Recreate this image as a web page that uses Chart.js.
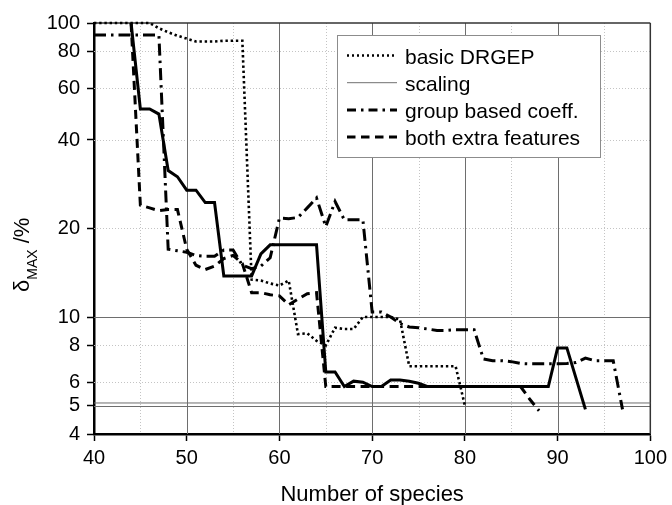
<!DOCTYPE html>
<html>
<head>
<meta charset="utf-8">
<script src="https://cdn.jsdelivr.net/npm/chart.js@4.4.0/dist/chart.umd.min.js"></script>
<style>
  html, body { margin: 0; padding: 0; background: #fff; }
</style>
</head>
<body>
<canvas id="chart" width="672" height="505"></canvas>
<script>
// number of species kept in the reduced mechanism vs. max error in %
const basicX = [40, 41, 42, 43, 44, 45, 46, 47, 48, 49, 50, 51, 52, 53, 54, 55, 56, 57, 58, 59,
                60, 61, 62, 63, 64, 65, 66, 67, 68, 69, 70, 71, 72, 73, 74, 75, 76, 77, 78, 79, 80];
const basicY = [100, 100, 100, 100, 100, 100, 100, 96, 93, 90.5, 88.5, 86.5, 86.5, 86.5, 87, 87, 87, 13.4, 13.3, 13,
                12.8, 13.3, 8.75, 8.8, 8.3, 8.0, 9.2, 9.1, 9.1, 10, 10, 10, 10, 9.8, 6.8, 6.8, 6.8, 6.8, 6.8, 6.8, 5.0];

const scalingX = [44, 45, 46, 47, 48, 49, 50, 51, 52, 53, 54, 55, 56, 57, 58, 59, 60, 61, 62, 63, 64,
                  65, 66, 67, 68, 69, 70, 71, 72, 73, 74, 75, 76, 77, 78, 79, 80, 81, 82, 83, 84, 85,
                  86, 87, 88, 89, 90, 91, 93];
const scalingY = [100, 51, 51, 49, 31.5, 30, 27, 27, 24.5, 24.5, 13.8, 13.8, 13.8, 13.8, 16.4, 17.6, 17.6, 17.6, 17.6, 17.6, 17.6,
                  6.5, 6.5, 5.8, 6.05, 6.0, 5.8, 5.8, 6.1, 6.1, 6.05, 5.95, 5.8, 5.8, 5.8, 5.8, 5.8, 5.8, 5.8, 5.8, 5.8, 5.8,
                  5.8, 5.8, 5.8, 5.8, 7.85, 7.85, 4.85];

const groupX = [40, 41, 42, 43, 44, 45, 46, 47, 48, 49, 50, 51, 52, 53, 54, 55, 56, 57, 58, 59,
                60, 61, 62, 63, 64, 65, 66, 67, 68, 69, 70, 71, 72, 73, 74, 75, 76, 77, 78, 79,
                80, 81, 82, 83, 84, 85, 86, 87, 88, 89, 90, 91, 92, 93, 94, 95, 96, 97];
const groupY = [91, 91, 91, 91, 91, 91, 91, 91, 17, 16.8, 16.6, 16.2, 16.1, 16.1, 16.9, 16.9, 15.0, 14.6, 14.9, 15.9,
                21.7, 21.6, 21.8, 23.5, 25.4, 20.3, 24.7, 21.4, 21.4, 21.4, 10.4, 10.4, 10.0, 9.5, 9.25, 9.2, 9.1, 9.0, 9.0, 9.05,
                9.05, 9.05, 7.2, 7.1, 7.1, 7.05, 6.95, 6.93, 6.93, 6.93, 6.93, 6.95, 7.0, 7.25, 7.1, 7.1, 7.1, 4.85];

const bothX = [44, 45, 46, 47, 48, 49, 50, 51, 52, 53, 54, 55, 56, 57, 58, 59, 60, 61, 62, 63, 64,
               65, 66, 67, 68, 69, 70, 71, 72, 73, 74, 75, 76, 77, 78, 79, 80, 81, 82, 83, 84, 85, 86, 87, 88];
const bothY = [100, 24, 23.5, 23, 23.2, 23.2, 17, 15, 14.5, 14.9, 15.8, 16.2, 15.2, 12.1, 12.1, 11.9, 11.8, 11.0, 11.5, 12.0, 12.1,
               5.8, 5.8, 5.8, 5.8, 5.8, 5.8, 5.8, 5.8, 5.8, 5.8, 5.8, 5.8, 5.8, 5.8, 5.8, 5.8, 5.8, 5.8, 5.8, 5.8, 5.8, 5.8, 5.25, 4.8];

const seriesNames = ['basic DRGEP', 'scaling', 'group based coeff.', 'both extra features'];

// axes
const xMin = 40, xMax = 100;
const yMin = 4, yMax = 100;
const xTicks = [40, 50, 60, 70, 80, 90, 100];
const yTicks = [4, 5, 6, 8, 10, 20, 40, 60, 80, 100];
const xMajorGrid = [50, 60, 70, 80, 90];
const xMinorGrid = [45, 55, 65, 75, 85, 95];
const yMajorGrid = [5, 10];
const yMinorGrid = [6, 8, 20, 40, 60, 80];
const limitLevel = 5.1;

const FONT = '"Liberation Sans", Arial, sans-serif';

function toPoints(xs, ys) {
	return xs.map((x, i) => ({x: x, y: ys[i]}));
}

function hLine(ctx, x1, x2, y) {
	ctx.beginPath();
	ctx.moveTo(x1, y);
	ctx.lineTo(x2, y);
	ctx.stroke();
}

function vLine(ctx, x, y1, y2) {
	ctx.beginPath();
	ctx.moveTo(x, y1);
	ctx.lineTo(x, y2);
	ctx.stroke();
}

// grid lines under the curves, frame on top and right
const gridPlugin = {
	id: 'plotGrid',
	beforeDatasetsDraw(chart) {
		const {ctx, chartArea: a, scales: {x, y}} = chart;
		ctx.save();
		ctx.lineWidth = 1;
		ctx.strokeStyle = '#c4c4c4';
		ctx.setLineDash([1, 2]);
		xMinorGrid.forEach(v => vLine(ctx, Math.round(x.getPixelForValue(v)) + 0.5, a.top, a.bottom));
		yMinorGrid.forEach(v => hLine(ctx, a.left, a.right, Math.round(y.getPixelForValue(v)) + 0.5));
		ctx.setLineDash([]);
		ctx.strokeStyle = '#6e6e6e';
		xMajorGrid.forEach(v => vLine(ctx, Math.round(x.getPixelForValue(v)) + 0.5, a.top, a.bottom));
		yMajorGrid.forEach(v => hLine(ctx, a.left, a.right, Math.round(y.getPixelForValue(v)) + 0.5));
		ctx.strokeStyle = '#333';
		ctx.lineWidth = 1.5;
		hLine(ctx, a.left, a.right, a.top);
		vLine(ctx, a.right, a.top, a.bottom);
		ctx.restore();
	}
};

// y title with subscript
const yTitlePlugin = {
	id: 'yTitle',
	afterDraw(chart) {
		const ctx = chart.ctx;
		ctx.save();
		ctx.translate(29, 292);
		ctx.rotate(-Math.PI / 2);
		ctx.fillStyle = '#000';
		ctx.textAlign = 'left';
		ctx.textBaseline = 'alphabetic';
		ctx.font = '22px ' + FONT;
		ctx.fillText('δ', 0, 0);
		let w = ctx.measureText('δ').width;
		ctx.font = '14px ' + FONT;
		ctx.fillText('MAX', w, 8);
		w += ctx.measureText('MAX').width;
		ctx.font = '22px ' + FONT;
		ctx.fillText(' /%', w, 0);
		ctx.restore();
	}
};

// boxed legend inside the plot, one row per series that has a legendLine
const legendPlugin = {
	id: 'boxLegend',
	afterDraw(chart) {
		const ctx = chart.ctx;
		const box = {x: 337, y: 35, w: 263, h: 122};
		ctx.save();
		ctx.fillStyle = '#fff';
		ctx.fillRect(box.x, box.y, box.w, box.h);
		ctx.strokeStyle = '#8c8c8c';
		ctx.lineWidth = 1;
		ctx.strokeRect(box.x + 0.5, box.y + 0.5, box.w, box.h);
		ctx.font = '21px ' + FONT;
		ctx.textBaseline = 'alphabetic';
		ctx.textAlign = 'left';
		chart.data.datasets.filter(ds => ds.legendLine).forEach((ds, i) => {
			const base = 63.5 + i * 27.2;
			const ly = base - 8;
			const s = ds.legendLine;
			ctx.beginPath();
			ctx.setLineDash(s.dash || []);
			ctx.lineWidth = s.width;
			ctx.strokeStyle = s.color;
			ctx.moveTo(347, ly);
			ctx.lineTo(397, ly);
			ctx.stroke();
			ctx.setLineDash([]);
			ctx.fillStyle = '#000';
			ctx.fillText(ds.label, 405, base);
		});
		ctx.restore();
	}
};

const datasets = [
	{
		label: seriesNames[0],
		data: toPoints(basicX, basicY),
		borderColor: '#000',
		borderWidth: 2.6,
		borderDash: [2.4, 2.8],
		legendLine: {width: 2.4, color: '#000', dash: [2, 3]}
	},
	{
		label: seriesNames[1],
		data: toPoints(scalingX, scalingY),
		borderColor: '#000',
		borderWidth: 3,
		legendLine: {width: 1, color: '#707070'}
	},
	{
		label: seriesNames[2],
		data: toPoints(groupX, groupY),
		borderColor: '#000',
		borderWidth: 3,
		borderDash: [12, 5, 2.5, 5],
		legendLine: {width: 3, color: '#000', dash: [9, 5, 2.5, 5]}
	},
	{
		label: seriesNames[3],
		data: toPoints(bothX, bothY),
		borderColor: '#000',
		borderWidth: 3,
		borderDash: [9, 5.5],
		legendLine: {width: 3, color: '#000', dash: [8.5, 5.5]}
	},
	{
		label: 'limit',
		data: [{x: xMin, y: limitLevel}, {x: xMax, y: limitLevel}],
		borderColor: '#6e6e6e',
		borderWidth: 1
	}
];

const chart = new Chart(document.getElementById('chart'), {
	type: 'line',
	data: {datasets: datasets},
	options: {
		responsive: false,
		animation: false,
		devicePixelRatio: 1,
		layout: {padding: {left: 0, right: 19, top: 23, bottom: 0}},
		elements: {
			point: {radius: 0},
			line: {tension: 0, fill: false, borderJoinStyle: 'miter'}
		},
		datasets: {line: {clip: false}},
		plugins: {legend: {display: false}, tooltip: {enabled: false}},
		scales: {
			x: {
				type: 'linear',
				min: xMin,
				max: xMax,
				afterBuildTicks: s => { s.ticks = xTicks.map(v => ({value: v})); },
				afterFit: s => { s.height = 71; },
				ticks: {color: '#000', font: {family: FONT, size: 20}, padding: 5, maxRotation: 0},
				grid: {drawOnChartArea: false, drawTicks: true, tickLength: 7, tickColor: '#000', tickWidth: 1.5},
				border: {color: '#000', width: 2.5},
				title: {display: true, text: 'Number of species', color: '#000', font: {family: FONT, size: 22}, padding: {top: 0, bottom: -3}}
			},
			y: {
				type: 'logarithmic',
				min: yMin,
				max: yMax,
				afterBuildTicks: s => { s.ticks = yTicks.map(v => ({value: v})); },
				afterFit: s => { s.width = 94; },
				ticks: {color: '#000', font: {family: FONT, size: 20}, padding: 7, callback: v => String(v)},
				grid: {drawOnChartArea: false, drawTicks: true, tickLength: 7, tickColor: '#000', tickWidth: 1.5},
				border: {color: '#000', width: 2.5}
			}
		}
	},
	plugins: [gridPlugin, yTitlePlugin, legendPlugin]
});
</script>
</body>
</html>
